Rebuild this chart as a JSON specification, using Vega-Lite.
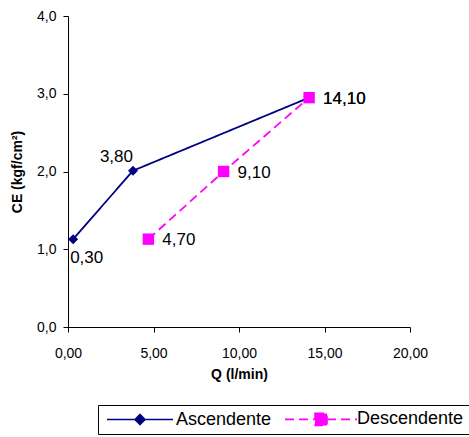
{
  "$schema": "https://vega.github.io/schema/vega-lite/v6.json",
  "width": 342,
  "height": 311,
  "autosize": {"type": "none"},
  "padding": {"left": 68, "top": 16, "right": 59, "bottom": 110},
  "background": "white",
  "config": {
    "locale": {"number": {"decimal": ",", "thousands": ".", "grouping": [3], "currency": ["", ""]}},
    "view": {"stroke": null},
    "font": "Liberation Sans",
    "axis": {
      "grid": false,
      "domainColor": "black",
      "tickColor": "black",
      "tickSize": 5,
      "labelColor": "black",
      "labelFont": "Liberation Sans",
      "labelFontSize": 14,
      "labelFlush": false,
      "titleFont": "Liberation Sans",
      "titleFontSize": 14,
      "titleFontWeight": "bold",
      "titleColor": "black"
    }
  },
  "data": {
    "values": [
      {"serie": "Ascendente", "Q": 0.3, "CE": 1.13},
      {"serie": "Ascendente", "Q": 3.8, "CE": 2.01},
      {"serie": "Ascendente", "Q": 14.1, "CE": 2.95},
      {"serie": "Descendente", "Q": 4.7, "CE": 1.13},
      {"serie": "Descendente", "Q": 9.1, "CE": 2.0},
      {"serie": "Descendente", "Q": 14.1, "CE": 2.95}
    ]
  },
  "encoding": {
    "x": {
      "field": "Q", "type": "quantitative", "title": "Q (l/min)",
      "scale": {"domain": [0, 20], "nice": false},
      "axis": {"values": [0, 5, 10, 15, 20], "format": ".2f", "labelPadding": 14, "titlePadding": 7}
    },
    "y": {
      "field": "CE", "type": "quantitative", "title": "CE (kgf/cm²)",
      "scale": {"domain": [0, 4], "nice": false},
      "axis": {"values": [0, 1, 2, 3, 4], "format": ".1f", "labelPadding": 7, "titlePadding": 12}
    }
  },
  "layer": [
    {
      "mark": {"type": "line", "strokeWidth": 1.8},
      "encoding": {
        "color": {
          "field": "serie", "type": "nominal",
          "scale": {"domain": ["Ascendente", "Descendente"], "range": ["#000080", "#FF00FF"]},
          "legend": {
            "title": null,
            "orient": "none",
            "legendX": 30,
            "legendY": 389,
            "direction": "horizontal",
            "strokeColor": "black",
            "fillColor": "white",
            "padding": 5,
            "labelFont": "Liberation Sans",
            "labelFontSize": 18,
            "labelColor": "black",
            "symbolSize": 100,
            "symbolStrokeWidth": 1.6,
            "symbolOffset": 28,
            "labelOffset": 27,
            "columnPadding": 9,
            "encode": {
              "symbols": {
                "update": {
                  "shape": {"signal": "datum.value === 'Ascendente' ? 'M-6.6,0L6.6,0M0,-1L1,0L0,1L-1,0Z' : 'M-7.2,0L7.2,0M-1.2,-1.2L1.2,-1.2L1.2,1.2L-1.2,1.2Z'"},
                  "fill": {"signal": "datum.value === 'Ascendente' ? '#000080' : '#FF00FF'"},
                  "stroke": {"signal": "datum.value === 'Ascendente' ? '#000080' : '#FF00FF'"},
                  "strokeWidth": {"value": 1.6},
                  "strokeDash": {"signal": "datum.value === 'Ascendente' ? [1, 0] : [9, 5]"},
                  "fillOpacity": {"value": 1},
                  "strokeOpacity": {"value": 1},
                  "opacity": {"value": 1}
                }
              }
            }
          }
        },
        "strokeDash": {
          "field": "serie", "type": "nominal",
          "scale": {"domain": ["Ascendente", "Descendente"], "range": [[1, 0], [9, 5]]},
          "legend": null
        }
      }
    },
    {
      "transform": [{"filter": "datum.serie === 'Ascendente'"}],
      "mark": {"type": "point", "filled": true, "opacity": 1, "shape": "diamond", "size": 100, "color": "#000080"}
    },
    {
      "transform": [{"filter": "datum.serie === 'Descendente'"}],
      "mark": {"type": "point", "filled": true, "opacity": 1, "shape": "square", "size": 130, "color": "#FF00FF"}
    },
    {
      "transform": [{"filter": "datum.serie === 'Ascendente' && datum.Q < 1"}],
      "mark": {"type": "text", "align": "left", "baseline": "top", "dx": -3, "dy": 11, "fontSize": 17, "font": "Liberation Sans", "color": "black"},
      "encoding": {"text": {"field": "Q", "type": "quantitative", "format": ".2f"}}
    },
    {
      "transform": [{"filter": "datum.serie === 'Ascendente' && datum.Q > 1 && datum.Q < 5"}],
      "mark": {"type": "text", "align": "right", "baseline": "bottom", "dx": 0, "dy": -5, "fontSize": 17, "font": "Liberation Sans", "color": "black"},
      "encoding": {"text": {"field": "Q", "type": "quantitative", "format": ".2f"}}
    },
    {
      "transform": [{"filter": "datum.serie === 'Descendente' || datum.Q > 10"}],
      "mark": {"type": "text", "align": "left", "baseline": "middle", "dx": 14, "dy": 1, "fontSize": 17, "font": "Liberation Sans", "color": "black"},
      "encoding": {"text": {"field": "Q", "type": "quantitative", "format": ".2f"}}
    }
  ]
}
